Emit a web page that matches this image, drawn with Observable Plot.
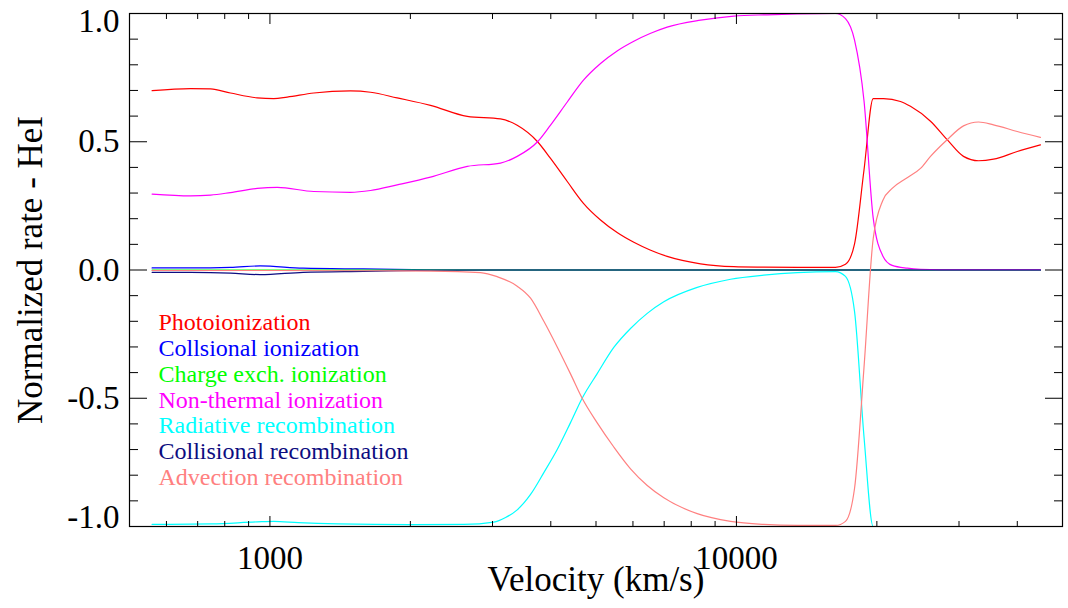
<!DOCTYPE html>
<html>
<head>
<meta charset="utf-8">
<script src="https://cdn.jsdelivr.net/npm/d3@7"></script>
<script src="https://cdn.jsdelivr.net/npm/@observablehq/plot@0.6"></script>
<style>
  html, body { margin: 0; padding: 0; background: #fff; }
  #chart { width: 1068px; height: 608px; }
</style>
</head>
<body>
<div id="chart"></div>
<script>
// Normalized HeI ionization / recombination rates versus ejecta velocity.
// Each series is a list of [velocity (km/s), normalized rate] pairs.
const photoionization = [
  [559, 0.699], [676, 0.707], [746, 0.706], [823, 0.690], [939, 0.671], [1019, 0.668],
  [1089, 0.674], [1242, 0.690], [1488, 0.698], [1643, 0.693], [1874, 0.671], [2209, 0.642],
  [2649, 0.599], [3121, 0.589], [3389, 0.564], [3747, 0.500], [3995, 0.435], [4339, 0.345],
  [4700, 0.260], [5113, 0.195], [5560, 0.145], [6026, 0.108], [6530, 0.078], [7104, 0.053],
  [8375, 0.024], [9871, 0.013], [11446, 0.011], [13499, 0.010], [16311, 0.010], [17130, 0.022],
  [17915, 0.102], [18770, 0.390], [19641, 0.668], [20666, 0.668], [22474, 0.657], [23608, 0.638],
  [26062, 0.580], [28297, 0.508], [30668, 0.443], [33035, 0.426], [35569, 0.432], [39994, 0.462],
  [44851, 0.488]
];
const collisionalIonization = [
  [559, 0.008], [676, 0.008], [823, 0.010], [953, 0.016], [1178, 0.007], [1587, 0.004],
  [2209, 0.001], [3000, 0.000], [44851, 0.000]
];
const chargeExchangeIonization = [
  [559, 0.000], [44851, 0.000]
];
const nonThermalIonization = [
  [559, 0.296], [676, 0.289], [746, 0.292], [823, 0.302], [939, 0.318], [1037, 0.322],
  [1242, 0.306], [1488, 0.303], [1643, 0.310], [1874, 0.332], [2209, 0.362], [2649, 0.404],
  [3121, 0.417], [3389, 0.443], [3747, 0.500], [3995, 0.565], [4339, 0.655], [4700, 0.740],
  [5113, 0.805], [5560, 0.855], [6026, 0.892], [6530, 0.922], [7104, 0.947], [8375, 0.974],
  [9871, 0.990], [11640, 0.995], [13499, 0.998], [16311, 1.000], [17130, 0.980], [17915, 0.896],
  [18770, 0.660], [19641, 0.203], [20594, 0.055], [21568, 0.018], [23229, 0.007], [24808, 0.003],
  [30000, 0.001], [44851, 0.001]
];
const radiativeRecombination = [
  [559, -0.992], [750, -0.990], [939, -0.982], [1019, -0.980], [1150, -0.985], [1400, -0.990],
  [2000, -0.993], [2604, -0.992], [3019, -0.983], [3200, -0.965], [3389, -0.935], [3620, -0.875],
  [3865, -0.790], [4129, -0.700], [4409, -0.595], [4670, -0.500], [5030, -0.404], [5459, -0.302],
  [5929, -0.228], [6439, -0.169], [6988, -0.124], [8240, -0.068], [9716, -0.036], [11446, -0.020],
  [13499, -0.010], [16311, -0.006], [17130, -0.025], [17915, -0.162], [18770, -0.650], [19641, -1.000],
  [44851, -1.000]
];
const collisionalRecombination = [
  [559, -0.009], [676, -0.009], [823, -0.012], [953, -0.018], [1178, -0.009], [1587, -0.005],
  [2209, -0.001], [3000, 0.000], [44851, 0.000]
];
const advectionRecombination = [
  [559, -0.002], [1000, -0.002], [1700, -0.003], [2209, -0.004], [2827, -0.010], [3070, -0.026],
  [3389, -0.063], [3620, -0.110], [3865, -0.200], [4129, -0.300], [4409, -0.405], [4670, -0.500],
  [5030, -0.596], [5459, -0.690], [5929, -0.775], [6439, -0.840], [6988, -0.888], [8240, -0.950],
  [9716, -0.980], [11446, -0.992], [13499, -0.996], [16311, -0.996], [17130, -0.980], [17915, -0.851],
  [18770, -0.380], [19641, 0.122], [20594, 0.271], [21568, 0.318], [23229, 0.360], [24808, 0.396],
  [26062, 0.443], [28297, 0.508], [30668, 0.562], [33035, 0.577], [35569, 0.566], [39994, 0.540],
  [44851, 0.517]
];

const seriesNames = [
  "Photoionization", "Collsional ionization", "Charge exch. ionization", "Non-thermal ionization",
  "Radiative recombination", "Collisional recombination", "Advection recombination"
];
const seriesColors = ["#ff0000", "#0000ff", "#00ff00", "#ff00ff", "#00ffff", "#0c0c80", "#ff8080"];
const seriesValues = [
  photoionization, collisionalIonization, chargeExchangeIonization, nonThermalIonization,
  radiativeRecombination, collisionalRecombination, advectionRecombination
];

const xMajorTicks = [1000, 10000];
const xMinorTicks = [600, 700, 800, 900, 2000, 3000, 4000, 5000, 6000, 7000, 8000, 9000, 20000, 30000, 40000];
const yMajorTicks = [-1, -0.5, 0, 0.5, 1];
const yMinorTicks = [-0.9, -0.8, -0.7, -0.6, -0.4, -0.3, -0.2, -0.1, 0.1, 0.2, 0.3, 0.4, 0.6, 0.7, 0.8, 0.9];

const xTitle = "Velocity (km/s)";
const yTitle = "Normalized rate - HeI";

const rows = seriesValues.flatMap((values, i) =>
  values.map(([v, r]) => ({series: seriesNames[i], v, r}))
);

const blank = () => "";
const fixed1 = (d) => d.toFixed(1);

// Tick marks point inward on all four sides of the box.
const tickMarks = [
  ...["bottom", "top"].flatMap((anchor) => [
    Plot.axisX({anchor, ticks: xMinorTicks, tickSize: -5, tickFormat: blank, label: null}),
    Plot.axisX({anchor, ticks: xMajorTicks, tickSize: -10, tickFormat: blank, label: null})
  ]),
  ...["left", "right"].flatMap((anchor) => [
    Plot.axisY({anchor, ticks: yMinorTicks, tickSize: -9, tickFormat: blank, label: null}),
    Plot.axisY({anchor, ticks: yMajorTicks, tickSize: -18, tickFormat: blank, label: null})
  ])
];

const tickLabels = [
  Plot.axisX({anchor: "bottom", ticks: xMajorTicks, tickSize: 0, tickPadding: 19, tickFormat: (d) => String(d), label: null}),
  Plot.axisY({anchor: "left", ticks: [0.5, 0, -0.5], tickSize: 0, tickPadding: 10, tickFormat: fixed1, label: null}),
  Plot.axisY({anchor: "left", ticks: [1], tickSize: 0, tickPadding: 10, tickFormat: fixed1, label: null, dy: 8}),
  Plot.axisY({anchor: "left", ticks: [-1], tickSize: 0, tickPadding: 10, tickFormat: fixed1, label: null, dy: -9})
];

const seriesLines = seriesNames.map((name, i) =>
  Plot.line(rows.filter((d) => d.series === name), {
    x: "v", y: "r", stroke: seriesColors[i], strokeWidth: 1.2, curve: "monotone-x"
  })
);

const legend = seriesNames.map((name, i) =>
  Plot.text([name], {
    text: (d) => d, frameAnchor: "top-left", dx: 29, dy: 309.3 + i * 25.7,
    textAnchor: "start", lineAnchor: "middle", fill: seriesColors[i], fontSize: 24
  })
);

const titles = [
  Plot.text([xTitle], {text: (d) => d, frameAnchor: "bottom", dy: 53, lineAnchor: "middle", fontSize: 35}),
  Plot.text([yTitle], {text: (d) => d, frameAnchor: "left", dx: -99, rotate: -90, lineAnchor: "middle", textAnchor: "middle", fontSize: 35})
];

const chart = Plot.plot({
  width: 1068,
  height: 608,
  marginLeft: 129,
  marginRight: 6,
  marginTop: 13,
  marginBottom: 82,
  style: {fontFamily: "'Liberation Serif', 'DejaVu Serif', serif", fontSize: "33px", color: "#000", background: "#fff"},
  x: {type: "log", domain: [500, 50000], label: null},
  y: {domain: [-1, 1], label: null},
  marks: [
    ...seriesLines,
    Plot.frame({stroke: "#000", strokeWidth: 1.2}),
    ...tickMarks,
    ...tickLabels,
    ...legend,
    ...titles
  ]
});

document.getElementById("chart").appendChild(chart);
</script>
</body>
</html>
